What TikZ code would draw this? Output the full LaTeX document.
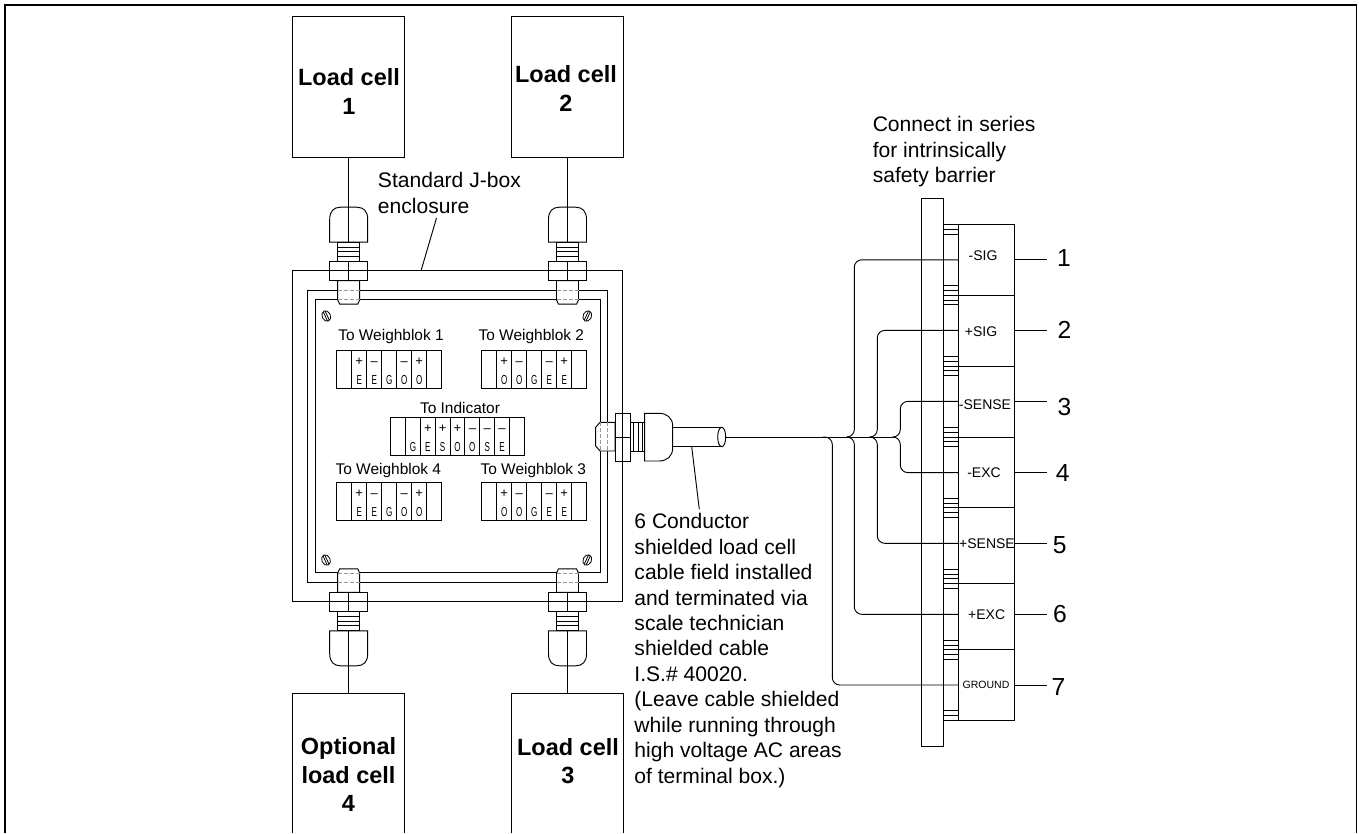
\documentclass[tikz,border=0pt]{standalone}
\usepackage{fontspec}
\setmainfont{Liberation Sans}
\newfontfamily\condfont[FakeStretch=0.62]{Liberation Sans}
\usetikzlibrary{calc}

\tikzset{
    frameline/.style={line width=1.3pt},
    cellbox/.style={draw, minimum width=84pt, minimum height=106pt, inner sep=0pt},
    celltext/.style={align=center, inner sep=0pt, font=\fontsize{17.6}{21.4}\selectfont\bfseries},
    notetext/.style={anchor=west, align=left, inner sep=0pt, font=\fontsize{15.8}{19.1}\selectfont},
    blocktitle/.style={inner sep=0pt, font=\fontsize{11.6}{13}\selectfont},
    termsign/.style={inner sep=0pt, text height=7pt, text depth=0pt, font=\fontsize{9.75}{11}\selectfont},
    termletter/.style={inner sep=0pt, text height=7pt, text depth=0pt, font=\fontsize{9.75}{11}\selectfont\condfont},
    termtext/.style={inner sep=0pt, font=\fontsize{10.5}{12}\selectfont},
    wirenum/.style={inner sep=0pt, font=\fontsize{18.5}{20}\selectfont},
    hiddenline/.style={dashed, dash pattern=on 3pt off 1.5pt, draw=gray!80},
}

\newcommand{\termrow}[6]{
    \foreach \i in {1,...,#4}
        \draw ({#2+(\i-1)*#5},#3) rectangle ({#2+\i*#5},#3+38);
    \foreach \i/\sgn/\ltr in {#6} {
        \node[termsign] (#1s\i) at ({#2+(\i-.5)*#5},#3+11) {\sgn};
        \node[termletter] (#1l\i) at ({#2+(\i-.5)*#5},#3+29.5) {\ltr};
    }
}

\begin{document}
\begin{tikzpicture}[x=.75pt, y=-.75pt, line width=.7pt]
    \useasboundingbox (0,0) rectangle (1359,833);
    \draw[frameline] (5,833) -- (5,5) -- (1356.5,5) -- (1356.5,833);

    \node[cellbox] (cell1) at (348.7,87) {};
    \node[cellbox] (cell2) at (567.5,87) {};
    \coordinate (cell4) at (348.7,693.3);
    \coordinate (cell3) at (567.5,693.3);
    \draw (292.6,833) -- (292.6,693.3) -- (404.8,693.3) -- (404.8,833);
    \draw (511.5,833) -- (511.5,693.3) -- (623.3,693.3) -- (623.3,833);
    \node[celltext] (cell1txt) at (349,91.5) {Load cell\\1};
    \node[celltext] (cell2txt) at (566,88.5) {Load cell\\2};
    \node[celltext] (cell4txt) at (348.5,774.5) {Optional\\load cell\\4};
    \node[celltext] (cell3txt) at (568,761) {Load cell\\3};

    \draw (315,299.5) rectangle (600,572.7);
    \draw (307.5,290) rectangle (607.5,582.3);

    \foreach \g/\gx/\gy/\gs in {1/348.7/271.2/-1, 2/567.5/271.2/-1, 4/348.7/601.8/1, 3/567.5/601.8/1} {
        \begin{scope}[shift={(\gx,\gy)}, yscale=\gs]
            \draw[fill=white] (-11,-9.5) -- (-11,-28.7) -- (-9,-33) -- (9,-33) -- (11,-28.7) -- (11,-9.5) -- cycle;
            \draw[hiddenline] (-11,-19) -- (11,-19);
            \draw[hiddenline] (-11,-28.7) -- (11,-28.7);
            \draw (-19,-9.5) rectangle (19,9.5);
            \draw (0,-9.5) -- (0,9.5);
            \draw (-11,9.5) rectangle (11,29);
            \draw (-11,14.5) -- (11,14.5);
            \draw (-11,19.3) -- (11,19.3);
            \draw (-11,24) -- (11,24);
            \draw (-19,29) -- (-19,52) .. controls (-19,60) and (-15,64) .. (-8,64) -- (8,64)
                .. controls (15,64) and (19,60) .. (19,52) -- (19,29) -- cycle;
            \coordinate (gland\g) at (0,29);
        \end{scope}
    }
    \draw (cell1.south) -- (gland1);
    \draw (cell2.south) -- (gland2);
    \draw (cell4) -- (gland4);
    \draw (cell3) -- (gland3);

    \draw (292.5,270.8) rectangle (622.7,601.8);
    \node[notetext] (jbox) at (377.5,193) {Standard J-box\\enclosure};
    \draw (436.5,218) -- (421,270.8);

    \foreach \sx/\sy/\sr in {326.3/316/25, 587.3/316/-25, 326/560/25, 587.3/560/-25} {
        \begin{scope}[shift={(\sx,\sy)}, rotate=\sr]
            \draw[line width=.6pt] (0,0) ellipse [x radius=4.2, y radius=5.5];
            \draw[line width=.6pt] (-1,-5) -- (-1,5);
            \draw[line width=.6pt] (1,-5) -- (1,5);
        \end{scope}
    }

    \node[blocktitle] (title1) at (391,336.5) {To Weighblok 1};
    \node[blocktitle] (title2) at (531.3,336.5) {To Weighblok 2};
    \node[blocktitle] (titleind) at (460,407.5) {To Indicator};
    \node[blocktitle] (title4) at (388.3,470.5) {To Weighblok 4};
    \node[blocktitle] (title3) at (533.3,470.5) {To Weighblok 3};
    \termrow{blkone}{336.7}{350.3}{7}{15}{2/+/E,3/\textendash/E,4//G,5/\textendash/O,6/+/O}
    \termrow{blktwo}{481.7}{350.3}{7}{15}{2/+/O,3/\textendash/O,4//G,5/\textendash/E,6/+/E}
    \termrow{blkind}{390.7}{417.3}{9}{14.85}{2//G,3/+/E,4/+/S,5/+/O,6/\textendash/O,7/\textendash/S,8/\textendash/E}
    \termrow{blkfour}{336.7}{482.3}{7}{15}{2/+/E,3/\textendash/E,4//G,5/\textendash/O,6/+/O}
    \termrow{blkthree}{481.7}{482.3}{7}{15}{2/+/O,3/\textendash/O,4//G,5/\textendash/E,6/+/E}

    % side gland and cable
    \draw[fill=white] (615,422.3) -- (600,422.3) -- (595.7,427.3) -- (595.7,446) -- (600,451) -- (615,451) -- cycle;
    \draw[hiddenline] (600,422.3) -- (600,451);
    \draw[hiddenline] (607.5,422.3) -- (607.5,451);
    \draw[fill=white] (615,413.3) rectangle (630,461);
    \draw (615,437) -- (630,437);
    \draw (622.7,413.3) -- (622.7,461);
    \draw (630,422.3) rectangle (644.7,451);
    \foreach \tx in {633.5,638.2,642.7}
        \draw (\tx,422.3) -- (\tx,451);
    \draw (644.7,413.3) -- (659,413.3) .. controls (667,413.3) and (672.7,418) .. (672.7,426) -- (672.7,448)
        .. controls (672.7,456) and (667,461) .. (659,461) -- (644.7,461) -- cycle;
    \draw (672.7,427.3) -- (721.7,427.3);
    \draw (672.7,446.7) -- (721.7,446.7);
    \draw (721.7,437) ellipse [x radius=4, y radius=9.7];
    \coordinate (cableend) at (725.7,437);
    \node[notetext] (cablenote) at (634,650.5) {6 Conductor\\shielded load cell\\cable field installed\\and terminated via\\scale technician\\shielded cable\\I.S.\# 40020.\\(Leave cable shielded\\while running through\\high voltage AC areas\\of terminal box.)};
    \draw (691.7,446.7) -- (699.3,509.3);

    % barrier
    \node[notetext] (barriernote) at (872.3,152) {Connect in series\\for intrinsically\\safety barrier};
    \draw (921.5,198.3) rectangle (943.7,746);
    \draw (958.7,224.3) rectangle (1014.7,720);
    \foreach \dy in {295.3,366,437,507.7,583.3,649.7}
        \draw (958.7,\dy) -- (1014.7,\dy);
    \foreach \ty in {224.3,229.3,234,285.7,290.3,295.3,300,304.7,356.7,361.3,366,370.3,375,427.7,432.3,437,441.7,446.3,498.3,503.3,507.7,512.7,517.3,569,574,578.7,583.3,588.3,640,645,649.7,654.3,659,710.7,715.3,720}
        \draw (943.7,\ty) -- (958.7,\ty);

    \foreach \n/\wy/\tx/\ty/\ntx/\nty/\lab in {
        1/259.8/983/256/1064/258/-SIG, 2/330.4/981/331.7/1064.5/330/+SIG,
        3/401.4/985/405/1064.5/406.5/-SENSE, 4/472.6/984/472.7/1062.7/472.7/-EXC,
        5/543.3/987/544/1059.7/545/+SENSE, 6/614.3/986.7/615/1060/614/+EXC} {
        \node[termtext] (term\n) at (\tx,\ty) {\lab};
        \node[wirenum] (num\n) at (\ntx,\nty) {\n};
        \coordinate (termin\n) at (958.7,\wy);
        \draw (1014.7,\wy) -- (1046.7,\wy);
    }
    \node[termtext, font=\fontsize{7.9}{9}\selectfont] (term7) at (986,685) {GROUND};
    \node[wirenum] (num7) at (1058.5,686.5) {7};
    \coordinate (termin7) at (958.7,685);
    \draw (1014.7,685) -- (1046.7,685);

    % wires
    \draw (cableend) -- (892.7,437);
    \begin{scope}[rounded corners=5.6pt]
        \draw (termin1) -| (854.3,437) -- (846.7,437);
        \draw (termin6) -| (854.3,437) -- (846.7,437);
        \draw (termin2) -| (877.3,437) -- (869.7,437);
        \draw (termin5) -| (877.3,437) -- (869.7,437);
        \draw (termin3) -| (900.3,437) -- (892.7,437);
        \draw (termin4) -| (900.3,437) -- (892.7,437);
        \draw (termin7) -| (832.3,437) -- (822.5,437);
    \end{scope}
\end{tikzpicture}
\end{document}
